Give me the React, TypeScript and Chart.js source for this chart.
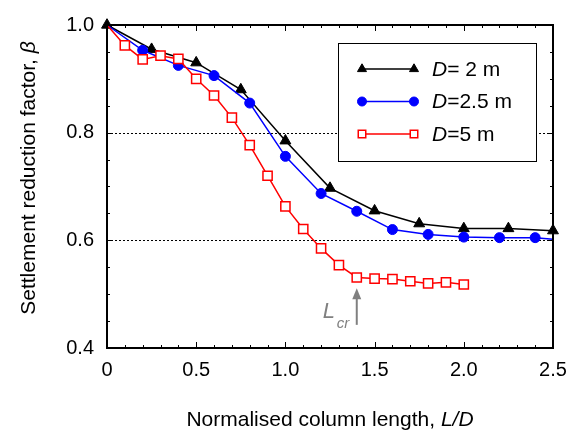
import React, { useEffect, useRef } from "react";
import { Chart, registerables } from "chart.js";

Chart.register(...registerables);

// ---- data ----
const LD_D2 = [0, 0.25, 0.5, 0.75, 1.0, 1.25, 1.5, 1.75, 2.0, 2.25, 2.5];
const BETA_D2 = [1.0, 0.955, 0.930, 0.880, 0.785, 0.697, 0.655, 0.631, 0.622, 0.622, 0.618];

const LD_D25 = [0, 0.2, 0.4, 0.6, 0.8, 1.0, 1.2, 1.4, 1.6, 1.8, 2.0, 2.2, 2.4, 2.5];
const BETA_D25 = [1.0, 0.953, 0.925, 0.906, 0.855, 0.756, 0.687, 0.654, 0.620, 0.611, 0.606, 0.605, 0.605, 0.602];

const LD_D5 = [0, 0.1, 0.2, 0.3, 0.4, 0.5, 0.6, 0.7, 0.8, 0.9, 1.0, 1.1, 1.2, 1.3, 1.4, 1.5, 1.6, 1.7, 1.8, 1.9, 2.0];
const BETA_D5 = [1.0, 0.962, 0.936, 0.943, 0.937, 0.900, 0.869, 0.828, 0.777, 0.720, 0.663, 0.621, 0.585, 0.554, 0.531, 0.529, 0.528, 0.524, 0.520, 0.522, 0.518];

const SERIES_LABELS = ["= 2 m", "=2.5 m", "=5 m"];
const X_TICKS = [0, 0.5, 1.0, 1.5, 2.0, 2.5];
const Y_TICKS = [0.4, 0.6, 0.8, 1.0];
const DOTTED_Y = [0.6, 0.8];
const LCR_X = 1.4;
const LCR_ARROW_FROM = 0.443;
const LCR_ARROW_TO = 0.511;

const FONT = "'Liberation Sans', Arial, Helvetica, sans-serif";

const zip = (xs: number[], ys: number[]) => xs.map((x, i) => ({ x, y: ys[i] }));

function drawMarker(ctx: CanvasRenderingContext2D, kind: string, x: number, y: number, r: number) {
  ctx.beginPath();
  if (kind === "triangle") {
    ctx.moveTo(x, y - r);
    ctx.lineTo(x + r * 0.866, y + r * 0.5);
    ctx.lineTo(x - r * 0.866, y + r * 0.5);
    ctx.closePath();
  } else if (kind === "circle") {
    ctx.arc(x, y, r, 0, Math.PI * 2);
  } else {
    const s = r * Math.SQRT1_2;
    ctx.rect(x - s, y - s, 2 * s, 2 * s);
  }
  ctx.fill();
  ctx.stroke();
}

export default function App() {
  const ref = useRef<HTMLCanvasElement>(null);

  useEffect(() => {
    document.body.style.margin = "0";
    const canvas = ref.current!;
    const overlay = {
      id: "overlay",
      beforeDatasetsDraw(chart: any) {
        const { ctx, chartArea: a, scales } = chart;
        const ys = scales.y;
        ctx.save();
        ctx.strokeStyle = "#000";
        ctx.lineWidth = 1;
        ctx.setLineDash([2, 2]);
        DOTTED_Y.forEach((v) => {
          const py = Math.round(ys.getPixelForValue(v)) + 0.5;
          ctx.beginPath();
          ctx.moveTo(a.left, py);
          ctx.lineTo(a.right, py);
          ctx.stroke();
        });
        ctx.restore();
      },
      afterDatasetsDraw(chart: any) {
        const { ctx, chartArea: a, scales } = chart;
        const xs = scales.x;
        const ys = scales.y;
        ctx.save();
        // minor/major ticks
        ctx.strokeStyle = "#000";
        ctx.lineWidth = 1;
        for (let i = 0; i <= 25; i++) {
          const v = i / 10;
          const px = Math.round(xs.getPixelForValue(v)) + 0.5;
          const len = i % 5 === 0 ? 6 : 3;
          ctx.beginPath();
          ctx.moveTo(px, a.bottom);
          ctx.lineTo(px, a.bottom - len);
          ctx.moveTo(px, a.top);
          ctx.lineTo(px, a.top + len);
          ctx.stroke();
        }
        for (let i = 0; i <= 12; i++) {
          const v = 0.4 + i * 0.05;
          const py = Math.round(ys.getPixelForValue(v)) + 0.5;
          const len = i % 4 === 0 ? 6 : 3;
          ctx.beginPath();
          ctx.moveTo(a.left, py);
          ctx.lineTo(a.left + len, py);
          ctx.moveTo(a.right, py);
          ctx.lineTo(a.right - len, py);
          ctx.stroke();
        }
        // frame
        ctx.lineWidth = 2;
        ctx.strokeRect(a.left, a.top, a.right - a.left, a.bottom - a.top);

        // Lcr arrow
        const ax = xs.getPixelForValue(LCR_X);
        const ay0 = ys.getPixelForValue(LCR_ARROW_FROM);
        const ay1 = ys.getPixelForValue(LCR_ARROW_TO);
        ctx.strokeStyle = "#808080";
        ctx.fillStyle = "#808080";
        ctx.lineWidth = 2;
        ctx.beginPath();
        ctx.moveTo(ax, ay0);
        ctx.lineTo(ax, ay1 + 8);
        ctx.stroke();
        ctx.beginPath();
        ctx.moveTo(ax, ay1);
        ctx.lineTo(ax - 4.5, ay1 + 11);
        ctx.lineTo(ax + 4.5, ay1 + 11);
        ctx.closePath();
        ctx.fill();
        ctx.textBaseline = "alphabetic";
        ctx.textAlign = "left";
        ctx.font = `italic 22px ${FONT}`;
        ctx.fillText("L", ax - 34, ay0 - 7);
        ctx.font = `italic 15px ${FONT}`;
        ctx.fillText("cr", ax - 20, ay0 + 3);

        // legend
        const bx = a.right - 17;
        const lw = 198, lh = 118;
        const lx = bx - lw, ly = a.top + 18;
        ctx.fillStyle = "#fff";
        ctx.fillRect(lx, ly, lw, lh);
        ctx.strokeStyle = "#000";
        ctx.lineWidth = 1;
        ctx.strokeRect(Math.round(lx) + 0.5, Math.round(ly) + 0.5, lw, lh);
        const dss = chart.data.datasets;
        dss.forEach((ds: any, i: number) => {
          const ry = ly + 26 + i * 32.5;
          const x0 = lx + 24, x1 = lx + 76;
          ctx.strokeStyle = ds.borderColor;
          ctx.lineWidth = ds.borderWidth;
          ctx.beginPath();
          ctx.moveTo(x0, ry);
          ctx.lineTo(x1, ry);
          ctx.stroke();
          [x0, x1].forEach((mx) => {
            ctx.fillStyle = ds.pointBackgroundColor;
            ctx.strokeStyle = ds.pointBorderColor;
            ctx.lineWidth = ds.pointBorderWidth;
            drawMarker(ctx, ds.pointStyle, mx, ry, ds.legendRadius);
          });
          ctx.fillStyle = "#000";
          ctx.textBaseline = "middle";
          ctx.textAlign = "left";
          ctx.font = `italic 21px ${FONT}`;
          const tx = lx + 94;
          ctx.fillText("D", tx, ry + 1);
          const dw = ctx.measureText("D").width;
          ctx.font = `21px ${FONT}`;
          ctx.fillText(ds.legendText, tx + dw, ry + 1);
        });

        // axis titles
        ctx.fillStyle = "#000";
        ctx.textBaseline = "alphabetic";
        ctx.font = `21px ${FONT}`;
        const t1 = "Normalised column length, ";
        const t2 = "L/D";
        const w1 = ctx.measureText(t1).width;
        ctx.font = `italic 21px ${FONT}`;
        const w2 = ctx.measureText(t2).width;
        const cx = (a.left + a.right) / 2;
        const sx = cx - (w1 + w2) / 2;
        ctx.font = `21px ${FONT}`;
        ctx.textAlign = "left";
        ctx.fillText(t1, sx, 426);
        ctx.font = `italic 21px ${FONT}`;
        ctx.fillText(t2, sx + w1, 426);

        ctx.save();
        ctx.translate(35, 178);
        ctx.rotate(-Math.PI / 2);
        ctx.font = `21px ${FONT}`;
        const y1 = "Settlement reduction factor, ";
        const yw1 = ctx.measureText(y1).width;
        ctx.font = `italic 21px ${FONT}`;
        const yw2 = ctx.measureText("\u03b2").width;
        const ysx = -(yw1 + yw2) / 2;
        ctx.font = `21px ${FONT}`;
        ctx.fillText(y1, ysx, 0);
        ctx.font = `italic 21px ${FONT}`;
        ctx.fillText("\u03b2", ysx + yw1, 0);
        ctx.restore();

        ctx.restore();
      },
    };

    const chart = new Chart(canvas, {
      type: "line",
      data: {
        datasets: [
          {
            label: "D= 2 m",
            legendText: SERIES_LABELS[0],
            data: zip(LD_D2, BETA_D2),
            borderColor: "#000000",
            borderWidth: 1.5,
            pointStyle: "triangle",
            pointRadius: 6.3,
            legendRadius: 5.2,
            pointBackgroundColor: "#000000",
            pointBorderColor: "#000000",
            pointBorderWidth: 1,
            clip: false,
            order: 2,
          } as any,
          {
            label: "D=2.5 m",
            legendText: SERIES_LABELS[1],
            data: zip(LD_D25, BETA_D25),
            borderColor: "#0000ff",
            borderWidth: 1.5,
            pointStyle: "circle",
            pointRadius: (c: any) =>
              c.dataIndex === 0 || c.dataIndex === LD_D25.length - 1 ? 0 : 5,
            legendRadius: 4.5,
            pointBackgroundColor: "#0000ff",
            pointBorderColor: "#0000ff",
            pointBorderWidth: 1,
            clip: false,
            order: 1,
          } as any,
          {
            label: "D=5 m",
            legendText: SERIES_LABELS[2],
            data: zip(LD_D5, BETA_D5),
            borderColor: "#ff0000",
            borderWidth: 1.5,
            pointStyle: "rect",
            pointRadius: (c: any) => (c.dataIndex === 0 ? 0 : 6.5),
            legendRadius: 5.3,
            pointBackgroundColor: "#ffffff",
            pointBorderColor: "#ff0000",
            pointBorderWidth: 1.5,
            clip: false,
            order: 0,
          } as any,
        ],
      },
      options: {
        animation: false,
        responsive: false,
        events: [],
        layout: { padding: { top: 19, right: 29, left: 0, bottom: 0 } },
        plugins: { legend: { display: false }, tooltip: { enabled: false } },
        scales: {
          x: {
            type: "linear",
            min: 0,
            max: 2.5,
            afterBuildTicks: (s: any) => {
              s.ticks = X_TICKS.map((v) => ({ value: v }));
            },
            afterFit: (s: any) => {
              s.height = 83;
            },
            grid: { display: false, drawTicks: false },
            border: { display: false },
            ticks: {
              padding: 10,
              color: "#000",
              font: { size: 20, family: FONT },
              maxRotation: 0,
              callback: (v: any) => (Number(v) === 0 ? "0" : Number(v).toFixed(1)),
            },
          },
          y: {
            type: "linear",
            min: 0.4,
            max: 1.0,
            afterBuildTicks: (s: any) => {
              s.ticks = Y_TICKS.map((v) => ({ value: v }));
            },
            afterFit: (s: any) => {
              s.width = 107;
            },
            grid: { display: false, drawTicks: false },
            border: { display: false },
            ticks: {
              padding: 13,
              color: "#000",
              font: { size: 20, family: FONT },
              callback: (v: any) => Number(v).toFixed(1),
            },
          },
        },
      },
      plugins: [overlay],
    } as any);

    return () => chart.destroy();
  }, []);

  return (
    <div style={{ width: 582, height: 431 }}>
      <canvas ref={ref} width={582} height={431} style={{ display: "block" }} />
    </div>
  );
}
